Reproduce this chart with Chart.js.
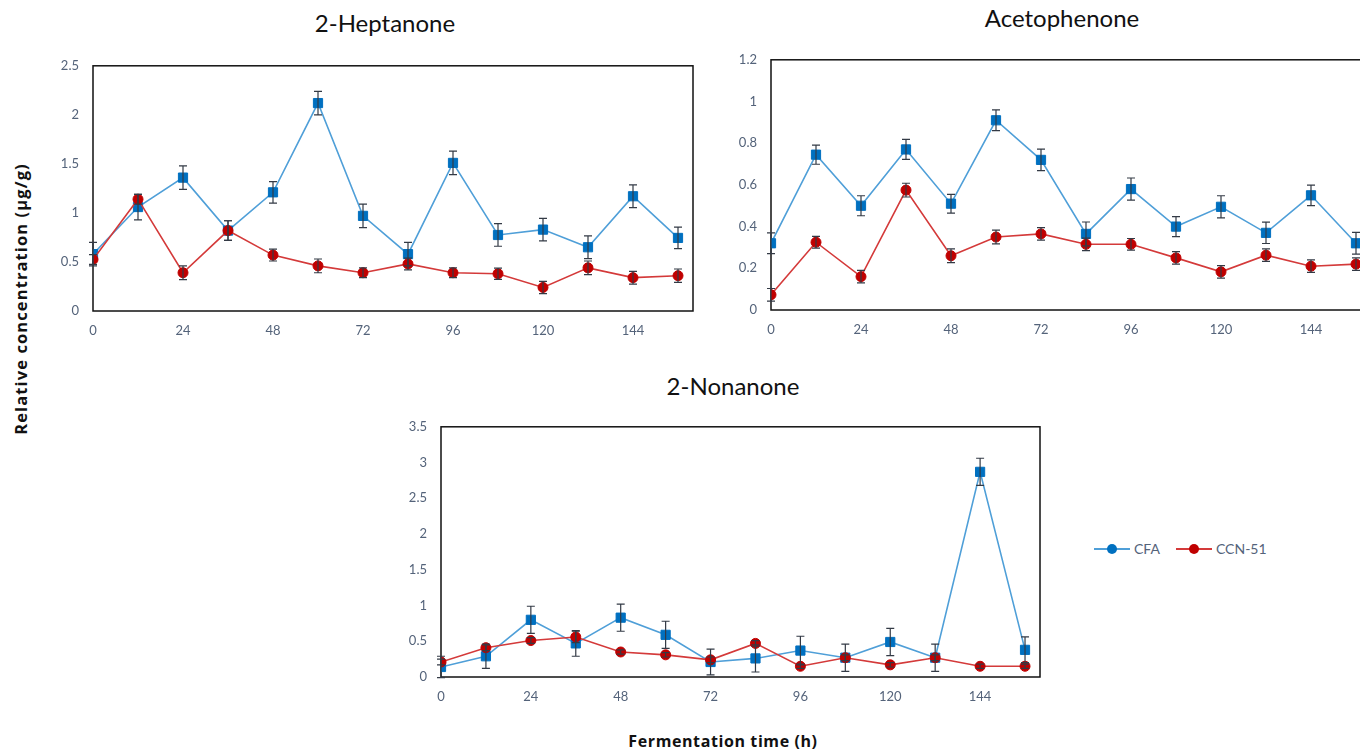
<!DOCTYPE html>
<html lang="en">
<head>
  <meta charset="UTF-8" />
  <title>Ketone concentrations during fermentation</title>
  <script src="https://cdn.jsdelivr.net/npm/chart.js"></script>
  <style>
    html, body { margin: 0; padding: 0; background: #fff; }
    body { width: 1360px; height: 750px; overflow: hidden; position: relative; font-family: Lato, 'Open Sans', sans-serif; }
    .box { position: absolute; }
    .title { position: absolute; font-size: 24px; color: #111; white-space: nowrap; transform: translateX(-50%); }
    .ylab { position: absolute; left: 20px; top: 299px; transform: translate(-50%, -50%) rotate(-90deg); font-family: 'Open Sans', sans-serif; font-weight: bold; font-size: 16.5px; letter-spacing: 1.1px; color: #111; white-space: nowrap; }
    .xlab { position: absolute; left: 723px; top: 730px; transform: translateX(-50%); font-family: 'Open Sans', sans-serif; font-weight: bold; font-size: 16px; letter-spacing: 0.6px; color: #111; white-space: nowrap; }
    .legend { position: absolute; left: 1094px; top: 540px; display: flex; align-items: center; font-size: 14px; color: #54637a; }
    .legend .item { display: flex; align-items: center; margin-right: 16px; }
    .legend .swatch { position: relative; width: 36px; height: 2px; margin-right: 4px; }
    .legend .swatch i { position: absolute; left: 13px; top: -4px; width: 10px; height: 10px; border-radius: 50%; }
  </style>
</head>
<body>
  <div class="title" style="left:385px; top:8px;">2-Heptanone</div>
  <div class="title" style="left:1062px; top:3px;">Acetophenone</div>
  <div class="title" style="left:733px; top:371px;">2-Nonanone</div>

  <div class="box" style="left:40px; top:44px; width:663px; height:297px;"><canvas id="hept"></canvas></div>
  <div class="box" style="left:718px; top:38px; width:663px; height:302px;"><canvas id="aceto"></canvas></div>
  <div class="box" style="left:388px; top:405px; width:662px; height:302px;"><canvas id="nona"></canvas></div>

  <div class="ylab">Relative concentration (µg/g)</div>
  <div class="xlab">Fermentation time (h)</div>

  <div class="legend">
    <div class="item"><span class="swatch" style="background:#4f9fd8"><i style="background:#0070c0"></i></span>CFA</div>
    <div class="item"><span class="swatch" style="background:#d43a3a"><i style="background:#c00000"></i></span>CCN-51</div>
  </div>

  <script>
    // sampling times (h)
    const hours = [0, 12, 24, 36, 48, 60, 72, 84, 96, 108, 120, 132, 144, 156];
    const xTicks = [0, 24, 48, 72, 96, 120, 144];

    // 2-Heptanone
    const heptCFA = [0.58, 1.06, 1.36, 0.82, 1.21, 2.12, 0.97, 0.58, 1.51, 0.775, 0.83, 0.65, 1.17, 0.745];
    const heptCFAErr = [0.12, 0.13, 0.12, 0.1, 0.11, 0.12, 0.12, 0.12, 0.12, 0.115, 0.115, 0.115, 0.115, 0.11];
    const heptCCN = [0.525, 1.14, 0.39, 0.82, 0.57, 0.46, 0.39, 0.48, 0.39, 0.38, 0.24, 0.44, 0.34, 0.36];
    const heptCCNErr = [0.05, 0.05, 0.07, 0.1, 0.06, 0.07, 0.05, 0.06, 0.05, 0.058, 0.063, 0.07, 0.065, 0.068];

    // Acetophenone
    const acetoCFA = [0.32, 0.745, 0.5, 0.77, 0.51, 0.91, 0.72, 0.365, 0.58, 0.4, 0.495, 0.37, 0.55, 0.32];
    const acetoCFAErr = [0.05, 0.046, 0.048, 0.048, 0.045, 0.05, 0.052, 0.057, 0.053, 0.048, 0.053, 0.051, 0.049, 0.052];
    const acetoCCN = [0.073, 0.325, 0.16, 0.575, 0.26, 0.35, 0.365, 0.315, 0.315, 0.25, 0.183, 0.263, 0.21, 0.22];
    const acetoCCNErr = [0.03, 0.028, 0.03, 0.033, 0.033, 0.033, 0.03, 0.03, 0.028, 0.03, 0.03, 0.03, 0.03, 0.03];

    // 2-Nonanone
    const nonaCFA = [0.14, 0.29, 0.8, 0.47, 0.83, 0.59, 0.21, 0.26, 0.37, 0.27, 0.49, 0.27, 2.87, 0.38];
    const nonaCFAErr = [0.15, 0.17, 0.19, 0.18, 0.19, 0.19, 0.18, 0.19, 0.2, 0.19, 0.19, 0.19, 0.19, 0.18];
    const nonaCCN = [0.21, 0.41, 0.51, 0.56, 0.35, 0.31, 0.24, 0.47, 0.15, 0.27, 0.17, 0.27, 0.15, 0.15];
    const nonaCCNErr = [0.04, 0.04, 0.04, 0.08, 0.03, 0.03, 0.04, 0.04, 0.03, 0.04, 0.03, 0.04, 0.03, 0.03];

    const tickColor = '#54637a';
    const tickFont = { family: 'Lato', size: 13 };

    // vertical error bars with caps, drawn from each dataset's errors array
    const errorBars = {
      id: 'errorBars',
      afterDatasetsDraw(chart) {
        const ctx = chart.ctx, ys = chart.scales.y;
        ctx.save();
        ctx.strokeStyle = '#333a45';
        ctx.lineWidth = 1.2;
        chart.data.datasets.forEach((ds, di) => {
          const meta = chart.getDatasetMeta(di);
          meta.data.forEach((pt, i) => {
            const v = ds.data[i].y, e = ds.errors[i];
            const top = ys.getPixelForValue(v + e), bot = ys.getPixelForValue(v - e);
            ctx.beginPath();
            ctx.moveTo(pt.x, top); ctx.lineTo(pt.x, bot);
            ctx.moveTo(pt.x - 4, top); ctx.lineTo(pt.x + 4, top);
            ctx.moveTo(pt.x - 4, bot); ctx.lineTo(pt.x + 4, bot);
            ctx.stroke();
          });
        });
        ctx.restore();
      }
    };

    // plot-area frame
    const frame = {
      id: 'frame',
      beforeDatasetsDraw(chart) {
        const a = chart.chartArea, ctx = chart.ctx;
        ctx.save();
        ctx.strokeStyle = '#111';
        ctx.lineWidth = 1.5;
        ctx.strokeRect(a.left, a.top, a.right - a.left, a.bottom - a.top);
        ctx.restore();
      }
    };

    function series(vals, errs, line, marker, style, r) {
      return {
        data: hours.map((h, i) => ({ x: h, y: vals[i] })),
        errors: errs,
        borderColor: line,
        borderWidth: 1.6,
        backgroundColor: marker,
        pointBackgroundColor: marker,
        pointBorderColor: marker,
        pointStyle: style,
        pointRadius: r,
        pointBorderWidth: 1,
        tension: 0
      };
    }

    function makeChart(id, cfa, cfaErr, ccn, ccnErr, yMax, yStep) {
      new Chart(document.getElementById(id), {
        type: 'line',
        data: {
          datasets: [
            series(ccn, ccnErr, '#d43a3a', '#c00000', 'circle', 5),
            series(cfa, cfaErr, '#4f9fd8', '#0070c0', 'rect', 6.5)
          ]
        },
        options: {
          responsive: true,
          maintainAspectRatio: false,
          animation: false,
          layout: { padding: { top: 10, right: 10, left: 0, bottom: 0 } },
          plugins: { legend: { display: false }, tooltip: { enabled: false } },
          scales: {
            x: {
              type: 'linear', min: 0, max: 160,
              afterBuildTicks: s => { s.ticks = xTicks.map(v => ({ value: v })); },
              afterFit: s => { s.height = 30; },
              grid: { display: false, drawTicks: false },
              border: { display: false },
              ticks: { color: tickColor, font: tickFont, padding: 12, maxRotation: 0 }
            },
            y: {
              min: 0, max: yMax,
              afterFit: s => { s.width = 53; },
              grid: { display: false, drawTicks: false },
              border: { display: false },
              ticks: { stepSize: yStep, color: tickColor, font: tickFont, padding: 14,
                       callback: v => String(+v.toFixed(2)) }
            }
          }
        },
        plugins: [frame, errorBars]
      });
    }

    makeChart('hept', heptCFA, heptCFAErr, heptCCN, heptCCNErr, 2.5, 0.5);
    makeChart('aceto', acetoCFA, acetoCFAErr, acetoCCN, acetoCCNErr, 1.2, 0.2);
    makeChart('nona', nonaCFA, nonaCFAErr, nonaCCN, nonaCCNErr, 3.5, 0.5);
  </script>
</body>
</html>
